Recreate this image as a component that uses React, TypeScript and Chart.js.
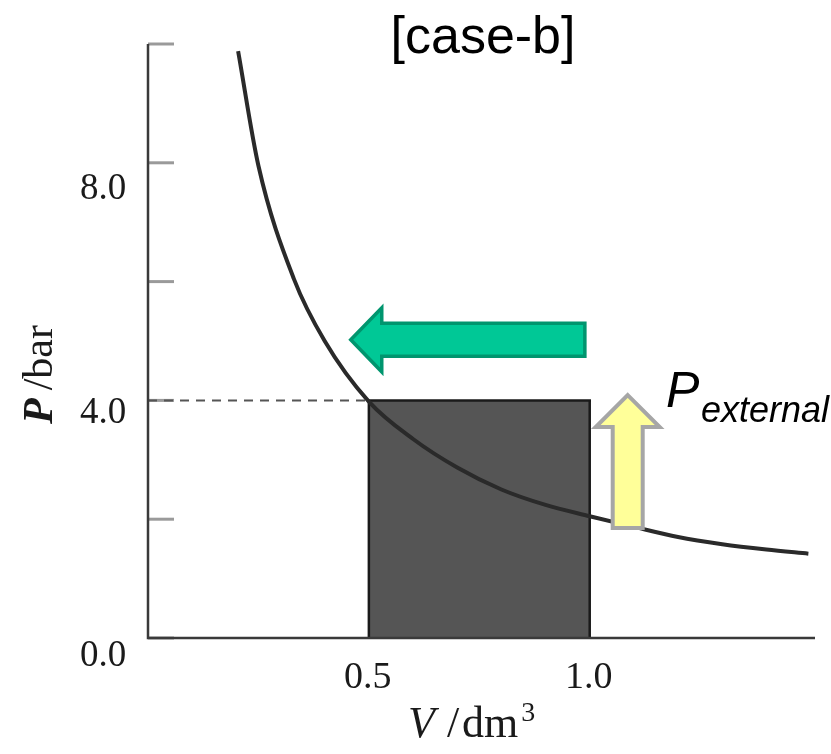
import React, { useEffect, useRef } from "react";
import { Chart, registerables } from "chart.js";

Chart.register(...registerables);

// ---- data ----
const curveV = [0.204, 0.25, 0.33, 0.4, 0.5, 0.6, 0.7, 0.8, 0.9, 1.0, 1.1, 1.2, 1.3, 1.4, 1.495];
const curveP = [9.88, 7.95, 6.05, 5.0, 3.98, 3.35, 2.87, 2.5, 2.24, 2.05, 1.87, 1.7, 1.58, 1.49, 1.42];
const rectV = [0.5, 0.5, 1.0, 1.0];
const rectP = [0, 4.0, 4.0, 0];
const dashV = [0, 0.5];
const dashP = [4.0, 4.0];
const yTickValues = [0, 2, 4, 6, 8, 10];
const yLabelValues = [0, 4, 8];
const yLabelTexts = ["0.0", "4.0", "8.0"];
const xLabelValues = [0.5, 1.0];
const xLabelTexts = ["0.5", "1.0"];
const titleText = "[case-b]";
// arrows in data units
const greenArrow = { fromV: 0.989, toV: 0.459, atP: 5.02 };
const yellowArrow = { fromP: 1.85, toP: 4.09, atV: 1.086 };

const X_MIN = 0;
const X_MAX = 1.51;
const Y_MIN = 0;
const Y_MAX = 10;

const SERIF = '"Liberation Serif", "DejaVu Serif", serif';
const SANS = '"Liberation Sans", Arial, sans-serif';

const decoPlugin = {
  id: "deco",
  beforeDatasetsDraw(chart: any) {
    const ctx = chart.ctx;
    const x = chart.scales.x;
    const y = chart.scales.y;
    ctx.save();
    ctx.strokeStyle = "#9a9a9a";
    ctx.lineWidth = 3;
    const x0 = x.getPixelForValue(0);
    yTickValues.forEach((v) => {
      const py = y.getPixelForValue(v);
      ctx.beginPath();
      ctx.moveTo(x0, py);
      ctx.lineTo(x0 + 26, py);
      ctx.stroke();
    });
    ctx.restore();
  },
  afterDatasetsDraw(chart: any) {
    const ctx = chart.ctx;
    const x = chart.scales.x;
    const y = chart.scales.y;
    const x0 = x.getPixelForValue(X_MIN);
    const x1 = x.getPixelForValue(X_MAX);
    const y0 = y.getPixelForValue(Y_MIN);
    const y1 = y.getPixelForValue(Y_MAX);
    ctx.save();
    // axes
    ctx.strokeStyle = "#3a3a3a";
    ctx.lineWidth = 2.5;
    ctx.beginPath();
    ctx.moveTo(x0, y1);
    ctx.lineTo(x0, y0);
    ctx.lineTo(x1, y0);
    ctx.stroke();

    // y labels
    const yShift = [18, 13, 26];
    ctx.fillStyle = "#1a1a1a";
    ctx.font = `37px ${SERIF}`;
    ctx.textAlign = "center";
    ctx.textBaseline = "middle";
    yLabelValues.forEach((v, i) => {
      ctx.fillText(yLabelTexts[i], 103, y.getPixelForValue(v) + yShift[i]);
    });
    // x labels
    ctx.font = `38px ${SERIF}`;
    xLabelValues.forEach((v, i) => {
      ctx.fillText(xLabelTexts[i], x.getPixelForValue(v) - 1, 678);
    });

    // x axis title  V /dm3
    ctx.textAlign = "left";
    ctx.textBaseline = "alphabetic";
    let tx = 408;
    const by = 737;
    ctx.font = `italic 44px ${SERIF}`;
    ctx.fillText("V", tx, by);
    tx += ctx.measureText("V").width + 12;
    ctx.font = `44px ${SERIF}`;
    ctx.fillText("/", tx, by);
    tx += ctx.measureText("/").width + 3;
    ctx.fillText("dm", tx, by);
    tx += ctx.measureText("dm").width + 3;
    ctx.font = `28px ${SERIF}`;
    ctx.fillText("3", tx, by - 16);

    // y axis title  P /bar (rotated)
    ctx.save();
    ctx.translate(52, 424);
    ctx.rotate(-Math.PI / 2);
    ctx.font = `italic bold 42px ${SERIF}`;
    ctx.fillText("P", 0, 0);
    const ry = ctx.measureText("P").width + 8;
    ctx.font = `42px ${SERIF}`;
    ctx.fillText("/bar", ry, 0);
    ctx.restore();

    // title
    ctx.font = `52px ${SANS}`;
    ctx.textAlign = "center";
    ctx.textBaseline = "middle";
    ctx.fillStyle = "#000";
    ctx.fillText(titleText, 483, 39);

    // P external
    ctx.textAlign = "left";
    ctx.textBaseline = "alphabetic";
    ctx.font = `italic 50px ${SANS}`;
    ctx.fillText("P", 666, 407);
    ctx.font = `italic 36px ${SANS}`;
    ctx.fillText("external", 701, 422);

    // green arrow (pointing left)
    {
      const tip = x.getPixelForValue(greenArrow.toV);
      const tail = x.getPixelForValue(greenArrow.fromV);
      const cy = y.getPixelForValue(greenArrow.atP);
      const headLen = 31;
      const sh = 16.5;
      const hh = 32;
      ctx.beginPath();
      ctx.moveTo(tip, cy);
      ctx.lineTo(tip + headLen, cy - hh);
      ctx.lineTo(tip + headLen, cy - sh);
      ctx.lineTo(tail, cy - sh);
      ctx.lineTo(tail, cy + sh);
      ctx.lineTo(tip + headLen, cy + sh);
      ctx.lineTo(tip + headLen, cy + hh);
      ctx.closePath();
      ctx.fillStyle = "#00c896";
      ctx.fill();
      ctx.strokeStyle = "#00956e";
      ctx.lineWidth = 3.5;
      ctx.lineJoin = "miter";
      ctx.stroke();
    }
    // yellow arrow (pointing up)
    {
      const cx = x.getPixelForValue(yellowArrow.atV);
      const tip = y.getPixelForValue(yellowArrow.toP);
      const tail = y.getPixelForValue(yellowArrow.fromP);
      const headLen = 32;
      const sw = 15;
      const hw = 32;
      ctx.beginPath();
      ctx.moveTo(cx, tip);
      ctx.lineTo(cx + hw, tip + headLen);
      ctx.lineTo(cx + sw, tip + headLen);
      ctx.lineTo(cx + sw, tail);
      ctx.lineTo(cx - sw, tail);
      ctx.lineTo(cx - sw, tip + headLen);
      ctx.lineTo(cx - hw, tip + headLen);
      ctx.closePath();
      ctx.fillStyle = "#ffff99";
      ctx.fill();
      ctx.strokeStyle = "#a6a6a6";
      ctx.lineWidth = 4;
      ctx.stroke();
    }
    ctx.restore();
  },
};

export default function App() {
  const ref = useRef<HTMLCanvasElement | null>(null);
  useEffect(() => {
    if (!ref.current) return;
    const chart = new Chart(ref.current, {
      type: "scatter",
      data: {
        datasets: [
          {
            label: "work",
            data: rectV.map((v, i) => ({ x: v, y: rectP[i] })),
            showLine: true,
            fill: "origin",
            backgroundColor: "#555555",
            borderColor: "#1a1a1a",
            borderWidth: 2.5,
            pointRadius: 0,
            tension: 0,
            order: 3,
          },
          {
            label: "dash",
            data: dashV.map((v, i) => ({ x: v, y: dashP[i] })),
            showLine: true,
            borderColor: "#555",
            borderWidth: 2,
            borderDash: [9, 7],
            pointRadius: 0,
            fill: false,
            order: 2,
          },
          {
            label: "isotherm",
            data: curveV.map((v, i) => ({ x: v, y: curveP[i] })),
            showLine: true,
            borderColor: "#2a2a2a",
            borderWidth: 4,
            pointRadius: 0,
            fill: false,
            cubicInterpolationMode: "monotone",
            order: 1,
          },
        ],
      },
      options: {
        responsive: false,
        animation: false,
        layout: { padding: { left: 148, right: 16, top: 44, bottom: 116 } },
        plugins: { legend: { display: false }, tooltip: { enabled: false }, title: { display: false } },
        scales: {
          x: { type: "linear", min: X_MIN, max: X_MAX, display: false },
          y: { type: "linear", min: Y_MIN, max: Y_MAX, display: false },
        },
      },
      plugins: [decoPlugin],
    });
    return () => chart.destroy();
  }, []);
  return (
    <div style={{ position: "fixed", left: 0, top: 0, width: 831, height: 754, background: "#fff" }}>
      <canvas ref={ref} width={831} height={754} style={{ display: "block", width: 831, height: 754 }} />
    </div>
  );
}
